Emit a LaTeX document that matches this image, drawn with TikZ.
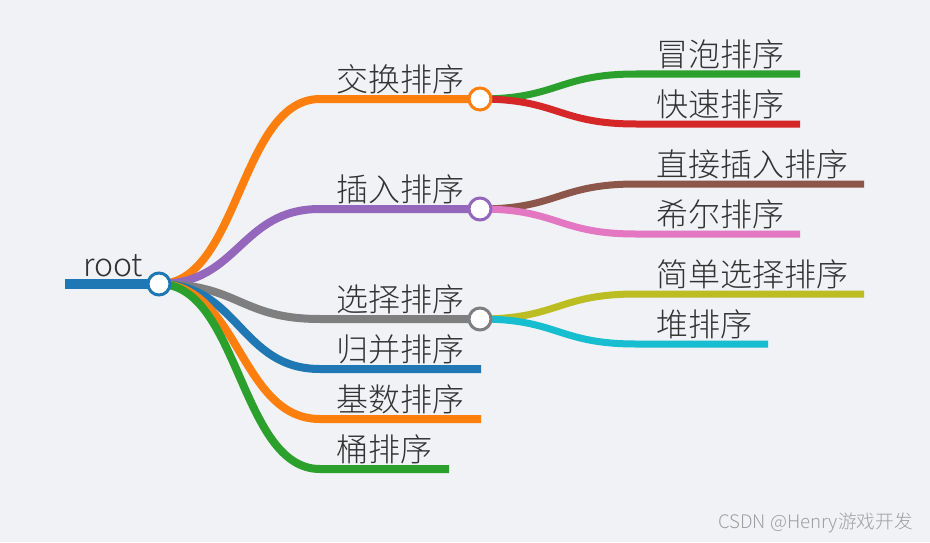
\documentclass[tikz,border=0pt]{standalone}
\usepackage{fontspec}
\setmainfont{Noto Sans CJK SC}[UprightFont={* Light}]
\usetikzlibrary{positioning,calc}
\definecolor{paper}{HTML}{F0F2F5}
\definecolor{ink}{HTML}{333333}
\definecolor{mblue}{HTML}{1F77B4}
\definecolor{morange}{HTML}{FF7F0E}
\definecolor{mgreen}{HTML}{2CA02C}
\definecolor{mred}{HTML}{D62728}
\definecolor{mpurple}{HTML}{9467BD}
\definecolor{mbrown}{HTML}{8C564B}
\definecolor{mpink}{HTML}{E377C2}
\definecolor{mgray}{HTML}{7F7F7F}
\definecolor{molive}{HTML}{BCBD22}
\definecolor{mcyan}{HTML}{17BECF}

\begin{document}
\begin{tikzpicture}[
  x=0.75pt, y=-0.75pt,
  topic/.style={
    anchor=base west,
    inner sep=0pt,
    text=ink,
    font=\fontsize{24}{28}\selectfont
  },
  knot/.style={
    circle,
    fill=white,
    line width=2.25pt,
    minimum size=16.5pt,
    inner sep=0pt
  },
  trunk/.style={line width=7.5pt},
  branch/.style={line width=6pt},
  twig/.style={line width=5.25pt}
]

\fill[paper] (0,0) rectangle (930,542);
\useasboundingbox (0,0) rectangle (930,542);

\coordinate (start) at (65,284);
\coordinate (root) at (159,284);
\coordinate (swap-in) at (320,99);
\coordinate (swap) at (480,99);
\coordinate (insert-in) at (320,209);
\coordinate (insert) at (480,209);
\coordinate (select-in) at (320,319);
\coordinate (select) at (480,319);
\coordinate (merge-in) at (320,369);
\coordinate (merge) at (481,369);
\coordinate (radix-in) at (320,419);
\coordinate (radix) at (481,419);
\coordinate (bucket-in) at (320,469);
\coordinate (bucket) at (449,469);
\coordinate (bubble-in) at (636,74);
\coordinate (bubble) at (800,74);
\coordinate (quick-in) at (636,124);
\coordinate (quick) at (800,124);
\coordinate (direct-in) at (636,184);
\coordinate (direct) at (864,184);
\coordinate (shell-in) at (636,234);
\coordinate (shell) at (800,234);
\coordinate (simple-in) at (636,294);
\coordinate (simple) at (864,294);
\coordinate (heap-in) at (636,344);
\coordinate (heap) at (768,344);

\draw[trunk, mblue] (start) -- (root);

\draw[branch, morange] (root) .. controls +(80,0) and +(-80,0) .. (swap-in) -- (swap);
\draw[branch, mpurple] (root) .. controls +(80,0) and +(-80,0) .. (insert-in) -- (insert);
\draw[branch, mgray] (root) .. controls +(80,0) and +(-80,0) .. (select-in) -- (select);
\draw[branch, mblue] (root) .. controls +(80,0) and +(-80,0) .. (merge-in) -- (merge);
\draw[branch, morange] (root) .. controls +(80,0) and +(-80,0) .. (radix-in) -- (radix);
\draw[branch, mgreen] (root) .. controls +(80,0) and +(-80,0) .. (bucket-in) -- (bucket);

\draw[twig, mgreen] (swap) .. controls +(78,0) and +(-78,0) .. (bubble-in) -- (bubble);
\draw[twig, mred] (swap) .. controls +(78,0) and +(-78,0) .. (quick-in) -- (quick);
\draw[twig, mbrown] (insert) .. controls +(78,0) and +(-78,0) .. (direct-in) -- (direct);
\draw[twig, mpink] (insert) .. controls +(78,0) and +(-78,0) .. (shell-in) -- (shell);
\draw[twig, molive] (select) .. controls +(78,0) and +(-78,0) .. (simple-in) -- (simple);
\draw[twig, mcyan] (select) .. controls +(78,0) and +(-78,0) .. (heap-in) -- (heap);

\node[knot, draw=mblue] (root-dot) at (root) {};
\node[knot, draw=morange] (swap-dot) at (swap) {};
\node[knot, draw=mpurple] (insert-dot) at (insert) {};
\node[knot, draw=mgray] (select-dot) at (select) {};

\node[topic] (root-txt) at ([shift={(18,-8)}]start) {root};
\node[topic] (swap-txt) at ([shift={(16,-8)}]swap-in) {交换排序};
\node[topic] (insert-txt) at ([shift={(16,-8)}]insert-in) {插入排序};
\node[topic] (select-txt) at ([shift={(16,-8)}]select-in) {选择排序};
\node[topic] (merge-txt) at ([shift={(16,-8)}]merge-in) {归并排序};
\node[topic] (radix-txt) at ([shift={(16,-8)}]radix-in) {基数排序};
\node[topic] (bucket-txt) at ([shift={(16,-8)}]bucket-in) {桶排序};
\node[topic] (bubble-txt) at ([shift={(20,-8)}]bubble-in) {冒泡排序};
\node[topic] (quick-txt) at ([shift={(20,-8)}]quick-in) {快速排序};
\node[topic] (direct-txt) at ([shift={(20,-8)}]direct-in) {直接插入排序};
\node[topic] (shell-txt) at ([shift={(20,-8)}]shell-in) {希尔排序};
\node[topic] (simple-txt) at ([shift={(20,-8)}]simple-in) {简单选择排序};
\node[topic] (heap-txt) at ([shift={(20,-8)}]heap-in) {堆排序};

\node[anchor=base east, inner sep=0pt, text=gray!75, font=\fontsize{14}{14}\selectfont] (mark) at (913,528) {CSDN @Henry游戏开发};

\end{tikzpicture}
\end{document}
